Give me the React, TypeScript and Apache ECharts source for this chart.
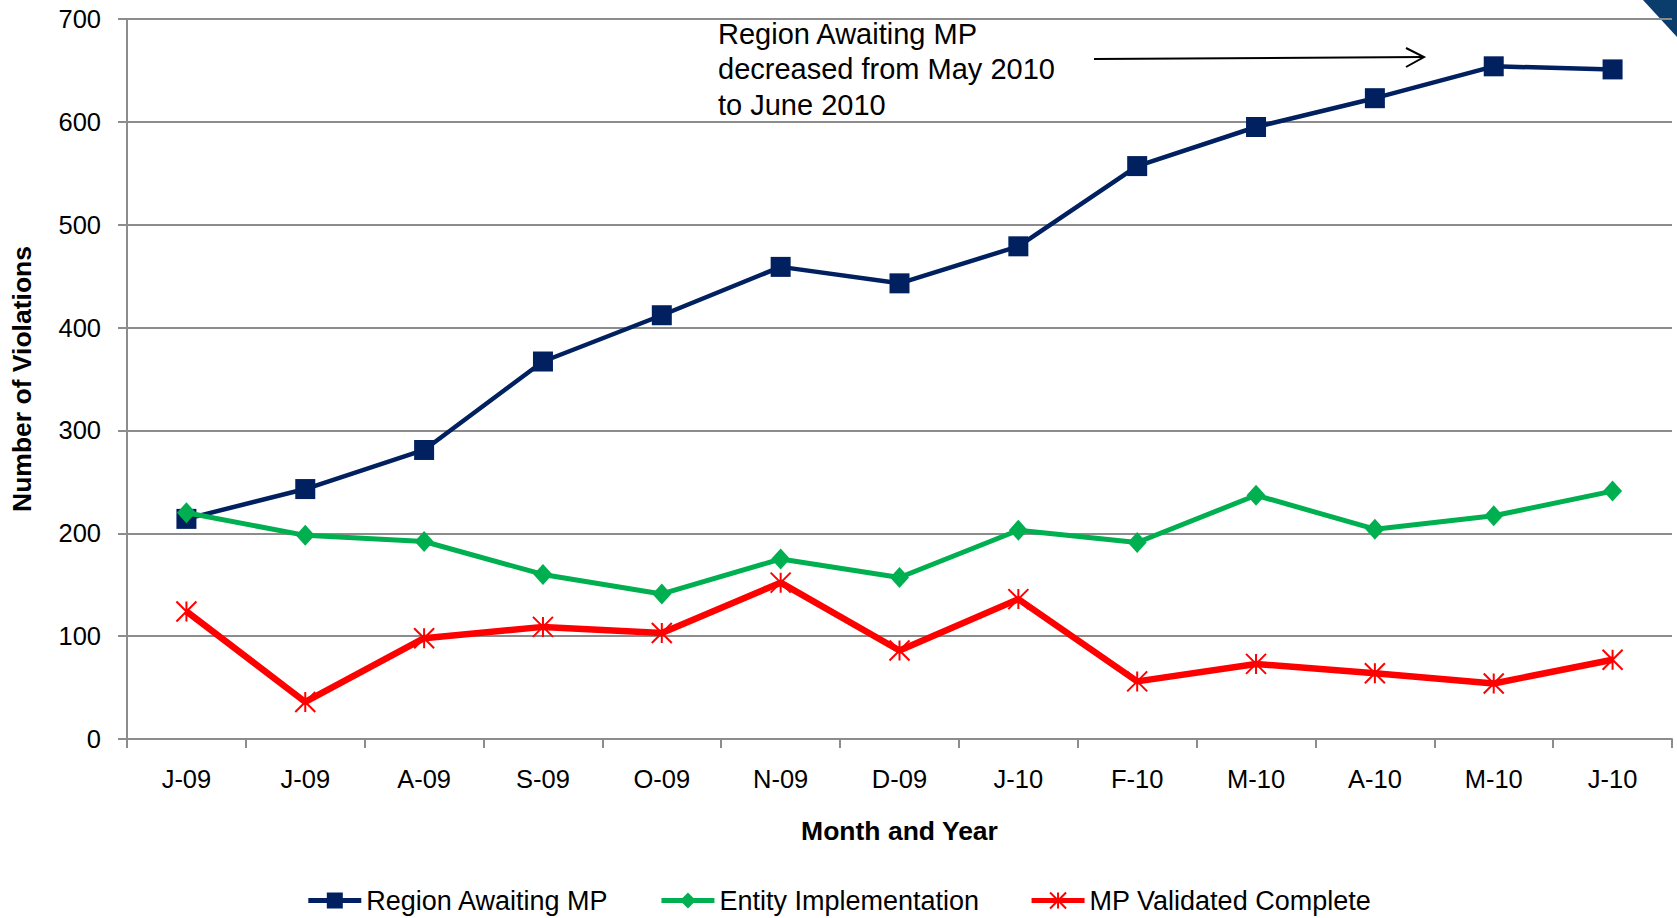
import React, { useEffect, useRef } from "react";
import * as echarts from "echarts";

const categories = ["J-09", "J-09", "A-09", "S-09", "O-09", "N-09", "D-09", "J-10", "F-10", "M-10", "A-10", "M-10", "J-10"];
const regionAwaiting = [214, 243, 281, 367, 412, 459, 443, 479, 557, 595, 623, 654, 651];
const entityImpl = [220, 198, 192, 160, 141, 175, 157, 203, 191, 237, 204, 217, 241];
const mpValidated = [124, 36, 98, 109, 103, 152, 86, 136, 56, 73, 64, 54, 77];
const seriesNames = ["Region Awaiting MP", "Entity Implementation", "MP Validated Complete"];
const annotationLines = ["Region Awaiting MP", "decreased from May 2010", "to June 2010"];

const FONT = "'Liberation Sans', Arial, sans-serif";
const GRID = "#8c8c8c";

export default function App() {
  const ref = useRef<HTMLDivElement>(null);
  useEffect(() => {
    document.body.style.margin = "0";
    const chart = echarts.init(ref.current!, null, { renderer: "svg" });
    chart.setOption({
      animation: false,
      backgroundColor: "#ffffff",
      textStyle: { fontFamily: FONT, color: "#000" },
      grid: { left: 125, right: 5, top: 19, bottom: 179, containLabel: false },
      legend: {
        data: seriesNames,
        left: "center",
        top: 882,
        itemWidth: 53,
        itemHeight: 20,
        itemGap: 50,
        lineStyle: { width: 5 },
        textStyle: { fontSize: 27, color: "#000", fontFamily: FONT },
      },
      xAxis: {
        type: "category",
        data: categories,
        boundaryGap: true,
        name: "Month and Year",
        nameLocation: "middle",
        nameGap: 78,
        nameTextStyle: { fontSize: 26.5, fontWeight: "bold", color: "#000", fontFamily: FONT },
        axisLine: { lineStyle: { color: GRID, width: 2 } },
        axisTick: { show: true, length: 9, lineStyle: { color: GRID, width: 2 } },
        axisLabel: { fontSize: 25.5, color: "#000", margin: 27, fontFamily: FONT },
        splitLine: { show: false },
      },
      yAxis: {
        type: "value",
        min: 0,
        max: 700,
        interval: 100,
        name: "Number of Violations",
        nameLocation: "middle",
        nameRotate: 90,
        nameGap: 92,
        nameTextStyle: { fontSize: 26.5, fontWeight: "bold", color: "#000", fontFamily: FONT },
        axisLine: { show: true, lineStyle: { color: GRID, width: 2 } },
        axisTick: { show: true, length: 9, lineStyle: { color: GRID, width: 2 } },
        axisLabel: { fontSize: 25.5, color: "#000", margin: 26, fontFamily: FONT },
        splitLine: { show: true, lineStyle: { color: GRID, width: 2 } },
      },
      series: [
        {
          name: seriesNames[0],
          type: "line",
          data: regionAwaiting,
          symbol: "rect",
          symbolSize: 20,
          lineStyle: { color: "#002060", width: 4.5 },
          itemStyle: { color: "#002060", borderWidth: 0 },
          z: 3,
        },
        {
          name: seriesNames[1],
          type: "line",
          data: entityImpl,
          symbol: "diamond",
          symbolSize: [19, 21],
          lineStyle: { color: "#00b050", width: 5 },
          itemStyle: { color: "#00b050", borderWidth: 0 },
          z: 4,
        },
        {
          name: seriesNames[2],
          type: "line",
          data: mpValidated,
          symbol: "path://M0,0L20,20M20,0L0,20M10,0L10,20",
          symbolSize: 20,
          lineStyle: { color: "#ff0000", width: 6.5 },
          itemStyle: { color: "#ff0000", borderColor: "#ff0000", borderWidth: 2 },
          z: 2,
        },
      ],
      graphic: [
        {
          type: "text",
          left: 718,
          top: 16,
          style: {
            text: annotationLines.join("\n"),
            fontSize: 29,
            lineHeight: 35.5,
            fontFamily: FONT,
            fill: "#000",
          },
        },
        {
          type: "line",
          shape: { x1: 1094, y1: 59, x2: 1424, y2: 57 },
          style: { stroke: "#000", lineWidth: 2 },
        },
        {
          type: "polyline",
          shape: { points: [[1406, 48], [1424, 57], [1406, 67]] },
          style: { stroke: "#000", lineWidth: 2, fill: "none" },
        },
        {
          type: "polygon",
          shape: { points: [[1643, 0], [1677, 0], [1677, 37]] },
          style: { fill: "#0a3d6b" },
        },
      ],
    });
    return () => chart.dispose();
  }, []);
  return <div ref={ref} style={{ width: 1677, height: 918 }} />;
}
